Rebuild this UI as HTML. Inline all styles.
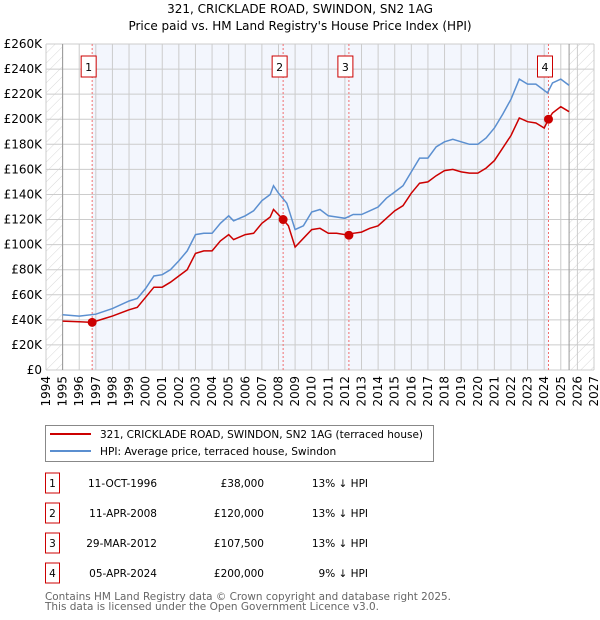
<!DOCTYPE html>
<html><head><meta charset="utf-8">
<style>
body{margin:0;background:#fff;font-family:"DejaVu Sans","Liberation Sans",sans-serif;}
#wrap{position:relative;width:600px;height:620px;overflow:hidden;}
svg text{font-family:"DejaVu Sans","Liberation Sans",sans-serif;}
</style></head>
<body>
<div id="wrap">
<svg id="chart" width="600" height="620"></svg>
</div>
<script>
const hpiYears=[1995,1996,1997,1998,1999,1999.5,2000,2000.5,2001,2001.5,2002,2002.5,2003,2003.5,2004,2004.5,2005,2005.3,2006,2006.5,2007,2007.5,2007.7,2008,2008.5,2009,2009.5,2010,2010.5,2011,2011.5,2012,2012.5,2013,2013.5,2014,2014.5,2015,2015.5,2016,2016.5,2017,2017.5,2018,2018.5,2019,2019.5,2020,2020.5,2021,2021.5,2022,2022.5,2023,2023.5,2024.2,2024.5,2025,2025.5];
const hpiValues=[44,43,44.5,49,55,57,65,75,76,80,87,95,108,109,109,117,123,119,123,127,135,140,147,141,133,112,115,126,128,123,122,121,124,124,127,130,137,142,147,158,169,169,178,182,184,182,180,180,185,193,204,216,232,228,228,221,229,232,227];
const priceYears=[1995,1996,1996.78,1997.5,1998,1999,1999.5,2000,2000.5,2001,2001.5,2002,2002.5,2003,2003.5,2004,2004.5,2005,2005.3,2006,2006.5,2007,2007.5,2007.7,2008.28,2008.6,2009,2009.5,2010,2010.5,2011,2011.5,2012.24,2012.5,2013,2013.5,2014,2014.5,2015,2015.5,2016,2016.5,2017,2017.5,2018,2018.5,2019,2019.5,2020,2020.5,2021,2021.5,2022,2022.5,2023,2023.5,2024.0,2024.26,2024.5,2025,2025.5];
const priceValues=[39,38.5,38,41,43,48,50,58,66,66,70,75,80,93,95,95,103,108,104,108,109,117,122,128,120,115,98,105,112,113,109,109,107.5,109,110,113,115,121,127,131,141,149,150,155,159,160,158,157,157,161,167,177,187,201,198,197,193,200,205,210,206];
const saleLabels=["1","2","3","4"];
const saleYears=[1996.78,2008.28,2012.24,2024.26];
const saleValues=[38,120,107.5,200];
const saleDates=["11-OCT-1996","11-APR-2008","29-MAR-2012","05-APR-2024"];
const salePrices=["£38,000","£120,000","£107,500","£200,000"];
const salePct=["13% ↓ HPI","13% ↓ HPI","13% ↓ HPI","9% ↓ HPI"];
const yTicks=[0,20,40,60,80,100,120,140,160,180,200,220,240,260];
const yTickLabels=["£0","£20K","£40K","£60K","£80K","£100K","£120K","£140K","£160K","£180K","£200K","£220K","£240K","£260K"];
const xTicks=[1994,1995,1996,1997,1998,1999,2000,2001,2002,2003,2004,2005,2006,2007,2008,2009,2010,2011,2012,2013,2014,2015,2016,2017,2018,2019,2020,2021,2022,2023,2024,2025,2026,2027];

const NS="http://www.w3.org/2000/svg";
const svg=document.getElementById('chart');
const L=46,R=594,T=44,B=370;
const x=v=>L+(v-1994)/(2027-1994)*(R-L);
const y=v=>B-v/260*(B-T);
function mk(tag,attrs,parent){const e=document.createElementNS(NS,tag);for(const k in attrs)e.setAttribute(k,attrs[k]);(parent||svg).appendChild(e);return e;}

const defs=mk('defs',{});
const pat=mk('pattern',{id:'hatch',width:7,height:7,patternUnits:'userSpaceOnUse',patternTransform:'rotate(45)'},defs);
mk('line',{x1:0,y1:0,x2:0,y2:7,stroke:'#d8d8d8','stroke-width':1},pat);

let t=mk('text',{x:300,y:13,'text-anchor':'middle','font-size':12,fill:'#000'});t.textContent="321, CRICKLADE ROAD, SWINDON, SN2 1AG";

t=mk('text',{x:300,y:30,'text-anchor':'middle','font-size':12,fill:'#000'});t.textContent="Price paid vs. HM Land Registry's House Price Index (HPI)";


let r=mk('rect',{x:x(saleYears[0]),y:T,width:x(saleYears[3])-x(saleYears[0]),height:B-T,fill:'#f3f6fd'});

r=mk('rect',{x:L,y:T,width:x(1995)-L,height:B-T,fill:'url(#hatch)'});

r=mk('rect',{x:x(2025.5),y:T,width:R-x(2025.5),height:B-T,fill:'url(#hatch)'});


yTicks.forEach((v,i)=>{
  const g=mk('line',{x1:L,x2:R,y1:y(v),y2:y(v),stroke:'#ccc','stroke-width':1});
  
  const tx=mk('text',{x:L-4,y:y(v)+4,'text-anchor':'end','font-size':12,fill:'#000'});tx.textContent=yTickLabels[i];
  
});
xTicks.forEach(v=>{
  const g=mk('line',{x1:x(v),x2:x(v),y1:T,y2:B,stroke:'#ccc','stroke-width':1});
  
  const tx=mk('text',{x:0,y:0,'text-anchor':'end','font-size':12,fill:'#000',transform:`translate(${x(v)+4},${B+6}) rotate(-90)`});tx.textContent=v;
  
});
let bl=mk('line',{x1:x(1995),x2:x(1995),y1:T,y2:B,stroke:'#999'});

bl=mk('line',{x1:x(2025.5),x2:x(2025.5),y1:T,y2:B,stroke:'#999'});


saleYears.forEach((v,i)=>{
  const l=mk('line',{x1:x(v),x2:x(v),y1:T,y2:B,stroke:'#f07070','stroke-dasharray':'2,2','stroke-width':1});
  
  const bx=mk('rect',{x:x(v)-11,y:56,width:15,height:21,fill:'#fff',stroke:'#c00'});
  
  const tx=mk('text',{x:x(v)-3.5,y:71,'text-anchor':'middle','font-size':11,fill:'#000'});tx.textContent=saleLabels[i];
  
});

const pts=(xs,vs)=>xs.map((v,i)=>x(v).toFixed(1)+','+y(vs[i]).toFixed(1)).join(' ');
let pl=mk('polyline',{points:pts(hpiYears,hpiValues),fill:'none',stroke:'#5b8fd0','stroke-width':1.5});

pl=mk('polyline',{points:pts(priceYears,priceValues),fill:'none',stroke:'#cc0000','stroke-width':1.5});

saleYears.forEach((v,i)=>{
  const c=mk('circle',{cx:x(v),cy:y(saleValues[i]),r:4.5,fill:'#cc0000'});
  
});

const lg=mk('g',{});
mk('rect',{x:45.5,y:425.5,width:388,height:36,fill:'#fff',stroke:'#888'},lg);
let li=mk('line',{x1:50,x2:91,y1:434,y2:434,stroke:'#cc0000','stroke-width':2},lg);

t=mk('text',{x:100,y:438,'font-size':10.6,fill:'#000',textLength:323,lengthAdjust:'spacingAndGlyphs'},lg);t.textContent="321, CRICKLADE ROAD, SWINDON, SN2 1AG (terraced house)";

li=mk('line',{x1:50,x2:91,y1:451,y2:451,stroke:'#5b8fd0','stroke-width':2},lg);

t=mk('text',{x:100,y:455,'font-size':10.6,fill:'#000'},lg);t.textContent="HPI: Average price, terraced house, Swindon";


saleLabels.forEach((lab,i)=>{
  const cy=483+i*30;
  const b=mk('rect',{x:45.5,y:cy-10,width:14,height:20,fill:'#fff',stroke:'#c00'});
  
  let tx=mk('text',{x:52.5,y:cy+4,'text-anchor':'middle','font-size':10.5,fill:'#000'});tx.textContent=lab;
  
  tx=mk('text',{x:157,y:cy+4,'text-anchor':'end','font-size':10.5,fill:'#000'});tx.textContent=saleDates[i];
  
  tx=mk('text',{x:264,y:cy+4,'text-anchor':'end','font-size':10.5,fill:'#000'});tx.textContent=salePrices[i];
  
  tx=mk('text',{x:368,y:cy+4,'text-anchor':'end','font-size':10.5,fill:'#000'});tx.textContent=salePct[i];
  
});
t=mk('text',{x:45,y:600,'font-size':11,fill:'#666',textLength:406,lengthAdjust:'spacingAndGlyphs'});t.textContent="Contains HM Land Registry data © Crown copyright and database right 2025.";

t=mk('text',{x:45,y:610,'font-size':11,fill:'#666',textLength:334,lengthAdjust:'spacingAndGlyphs'});t.textContent="This data is licensed under the Open Government Licence v3.0.";

</script>
</body></html>
